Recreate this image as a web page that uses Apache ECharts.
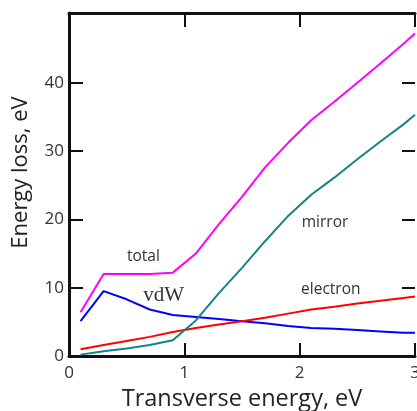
<!DOCTYPE html>
<html>
<head>
<meta charset="utf-8">
<script src="https://cdn.jsdelivr.net/npm/echarts@6/dist/echarts.min.js"></script>
<style>
  html, body { margin: 0; padding: 0; background: #fff; }
  #chart { width: 417px; height: 411px; }
</style>
</head>
<body>
<div id="chart"></div>
<script>
// transverse energy, eV
var xVals    = [0.1, 0.3, 0.5, 0.7, 0.9, 1.1, 1.3, 1.5, 1.7, 1.9, 2.1, 2.3, 2.5, 2.7, 2.9, 3.0];
// energy loss, eV
var totalVals    = [6.4, 12.0, 12.0, 12.0, 12.2, 15.0, 19.3, 23.3, 27.6, 31.2, 34.5, 37.2, 40.0, 42.8, 45.7, 47.2];
var vdwVals      = [5.1, 9.5, 8.3, 6.8, 6.0, 5.7, 5.4, 5.1, 4.8, 4.4, 4.1, 4.0, 3.8, 3.6, 3.4, 3.4];
var electronVals = [1.0, 1.6, 2.2, 2.8, 3.5, 4.1, 4.6, 5.1, 5.6, 6.2, 6.8, 7.2, 7.7, 8.1, 8.5, 8.7];
var mirrorVals   = [0.2, 0.7, 1.1, 1.6, 2.3, 5.2, 9.2, 12.9, 16.8, 20.5, 23.6, 26.1, 28.8, 31.4, 33.9, 35.3];
var yTicks = [0, 10, 20, 30, 40];

function pairs(ys) {
  var out = [];
  for (var i = 0; i < xVals.length; i++) out.push([xVals[i], ys[i]]);
  return out;
}

// curve labels, placed in data coordinates
function tag(text, x, y, font, size) {
  return {
    coord: [x, y],
    symbol: 'circle', symbolSize: 0,
    label: { show: true, position: 'inside', formatter: text, color: '#333',
             fontFamily: font, fontSize: size }
  };
}

var chart = echarts.init(document.getElementById('chart'));
var font = 'Open Sans';
var axisCol = '#111';

chart.setOption({
  animation: false,
  grid: { left: 69, right: 2, top: 13, bottom: 55, containLabel: false, outerBoundsMode: 'none' },
  xAxis: [{
    type: 'value', min: 0, max: 3, interval: 1,
    name: 'Transverse energy, eV', nameLocation: 'middle', nameGap: 29,
    nameTextStyle: { fontFamily: font, fontSize: 23.5, color: '#222' },
    axisLine: { show: true, onZero: false, lineStyle: { color: axisCol, width: 3 } },
    axisTick: { show: true, inside: true, length: 13, lineStyle: { color: axisCol, width: 2 } },
    axisLabel: { fontFamily: font, fontSize: 17, color: '#333', margin: 9, hideOverlap: false },
    splitLine: { show: false }
  }, {
    type: 'value', min: 0, max: 3, interval: 1, position: 'top',
    axisLine: { show: true, onZero: false, lineStyle: { color: axisCol, width: 3 } },
    axisTick: { show: true, inside: true, length: 14, lineStyle: { color: axisCol, width: 2 } },
    axisLabel: { show: false },
    splitLine: { show: false }
  }],
  yAxis: [{
    type: 'value', min: 0, max: 50.2,
    name: 'Energy loss, eV', nameLocation: 'middle', nameGap: 37,
    nameTextStyle: { fontFamily: font, fontSize: 22, color: '#222', padding: [0, 0, 0, 24] },
    axisLine: { show: true, onZero: false, lineStyle: { color: axisCol, width: 3 } },
    axisTick: { show: true, inside: true, length: 14, customValues: yTicks,
                lineStyle: { color: axisCol, width: 2 } },
    axisLabel: { fontFamily: font, fontSize: 17, color: '#333', margin: 5, customValues: yTicks },
    splitLine: { show: false }
  }, {
    type: 'value', min: 0, max: 50.2, position: 'right',
    axisLine: { show: false, onZero: false },
    axisTick: { show: true, inside: true, length: 13, customValues: yTicks,
                lineStyle: { color: axisCol, width: 2 } },
    axisLabel: { show: false },
    splitLine: { show: false }
  }],
  series: [{
    name: 'total', type: 'line', data: pairs(totalVals), symbol: 'none',
    lineStyle: { color: '#ff00ff', width: 2 },
    markPoint: { data: [tag('total', 0.645, 14.5, font, 15.5)] }
  }, {
    name: 'vdW', type: 'line', data: pairs(vdwVals), symbol: 'none',
    lineStyle: { color: '#0000ff', width: 2 },
    markPoint: { data: [tag('vdW', 0.82, 8.9, 'Liberation Serif', 21)] }
  }, {
    name: 'electron', type: 'line', data: pairs(electronVals), symbol: 'none',
    lineStyle: { color: '#ff0000', width: 2 },
    markPoint: { data: [tag('electron', 2.27, 9.7, font, 15.5)] }
  }, {
    name: 'mirror', type: 'line', data: pairs(mirrorVals), symbol: 'none',
    lineStyle: { color: '#138484', width: 2 },
    markPoint: { data: [tag('mirror', 2.22, 19.6, font, 15.5)] }
  }]
});
</script>
</body>
</html>
